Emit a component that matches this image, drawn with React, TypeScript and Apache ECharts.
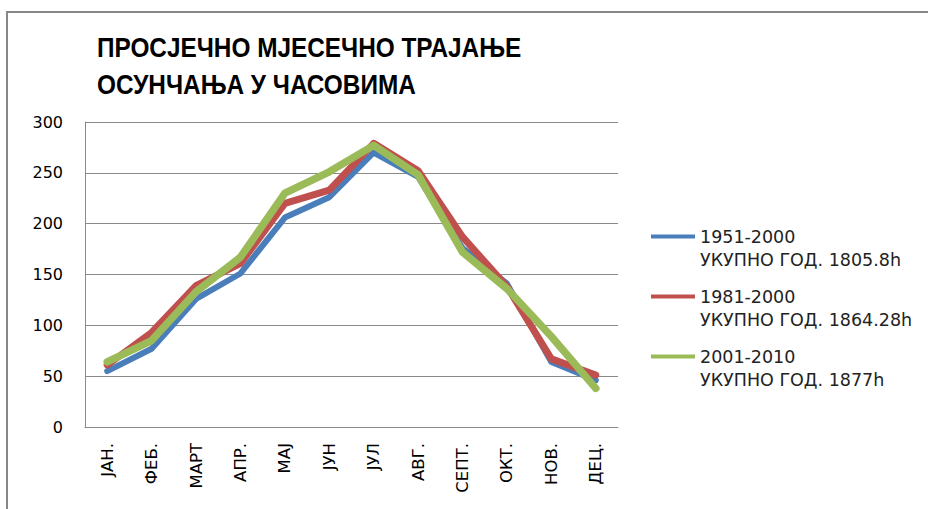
import React, { useEffect, useRef } from "react";
import * as echarts from "echarts";

const months = ["ЈАН.", "ФЕБ.", "МАРТ", "АПР.", "МАЈ", "ЈУН", "ЈУЛ", "АВГ.", "СЕПТ.", "ОКТ.", "НОВ.", "ДЕЦ."];
const s1951 = [55, 77, 126, 151, 206, 226, 270, 246, 176, 141, 64, 46];
const s1981 = [61, 93, 139, 161, 220, 233, 279, 252, 187, 138, 67, 51];
const s2001 = [64, 85, 133, 167, 230, 251, 277, 248, 172, 136, 89, 38];
const seriesNames = [
  "1951-2000\nУКУПНО ГОД. 1805.8h",
  "1981-2000\nУКУПНО ГОД. 1864.28h",
  "2001-2010\nУКУПНО ГОД. 1877h",
];
const yTicks = { min: 0, max: 300, interval: 50 };
const titleText = "ПРОСЈЕЧНО МЈЕСЕЧНО ТРАЈАЊЕ\nОСУНЧАЊА У ЧАСОВИМА";

export default function App() {
  const ref = useRef<HTMLDivElement>(null);
  useEffect(() => {
    if (!ref.current) return;
    const chart = echarts.init(ref.current, null, { renderer: "svg" });
    const colors = ["#4A7EBB", "#C0504D", "#9BBB59"];
    const widths = [6, 7, 7.5];
    const data = [s1951, s1981, s2001];
    chart.setOption({
      animation: false,
      backgroundColor: "#ffffff",
      graphic: [
        {
          type: "rect",
          shape: { x: 7, y: 12, width: 960, height: 560 },
          style: { fill: "none", stroke: "#878787", lineWidth: 2 },
          silent: true,
        },
        {
          type: "text",
          x: 97,
          y: 29,
          scaleX: 0.87,
          silent: true,
          style: {
            text: titleText,
            fontFamily: "'Liberation Sans', sans-serif",
            fontWeight: "bold",
            fontSize: 28,
            lineHeight: 37,
            fill: "#000000",
            verticalAlign: "top",
            align: "left",
          },
        },
      ],
      legend: {
        orient: "vertical",
        left: 646,
        top: 197,
        itemWidth: 44,
        itemHeight: 4,
        itemGap: -9,
        icon: "rect",
        data: seriesNames,
        formatter: (name: string) => "\n" + name,
        textStyle: {
          fontFamily: "'DejaVu Sans', sans-serif",
          fontSize: 17.5,
          lineHeight: 23,
          color: "#222222",
        },
      },
      grid: { left: 85, top: 122, width: 533, height: 305, containLabel: false },
      xAxis: {
        type: "category",
        data: months,
        boundaryGap: true,
        axisLine: { show: true, lineStyle: { color: "#8a8a8a", width: 1 } },
        axisTick: { show: false },
        axisLabel: {
          rotate: 90,
          margin: 16,
          padding: [0, 0, 8, 0],
          fontFamily: "'DejaVu Sans', sans-serif",
          fontSize: 16.5,
          color: "#000000",
        },
      },
      yAxis: {
        type: "value",
        min: yTicks.min,
        max: yTicks.max,
        interval: yTicks.interval,
        axisLine: { show: true, lineStyle: { color: "#8a8a8a", width: 1 } },
        axisTick: { show: false },
        splitLine: { show: true, lineStyle: { color: "#8a8a8a", width: 1 } },
        axisLabel: {
          margin: 22,
          fontFamily: "'DejaVu Sans', sans-serif",
          fontSize: 16,
          color: "#000000",
        },
      },
      series: seriesNames.map((name, i) => ({
        name,
        type: "line",
        data: data[i],
        symbol: "none",
        color: colors[i],
        lineStyle: { color: colors[i], width: widths[i], cap: "round", join: "round" },
      })),
    });
    return () => chart.dispose();
  }, []);
  return (
    <div
      ref={ref}
      style={{ position: "absolute", left: 0, top: 0, width: 928, height: 509 }}
    />
  );
}
